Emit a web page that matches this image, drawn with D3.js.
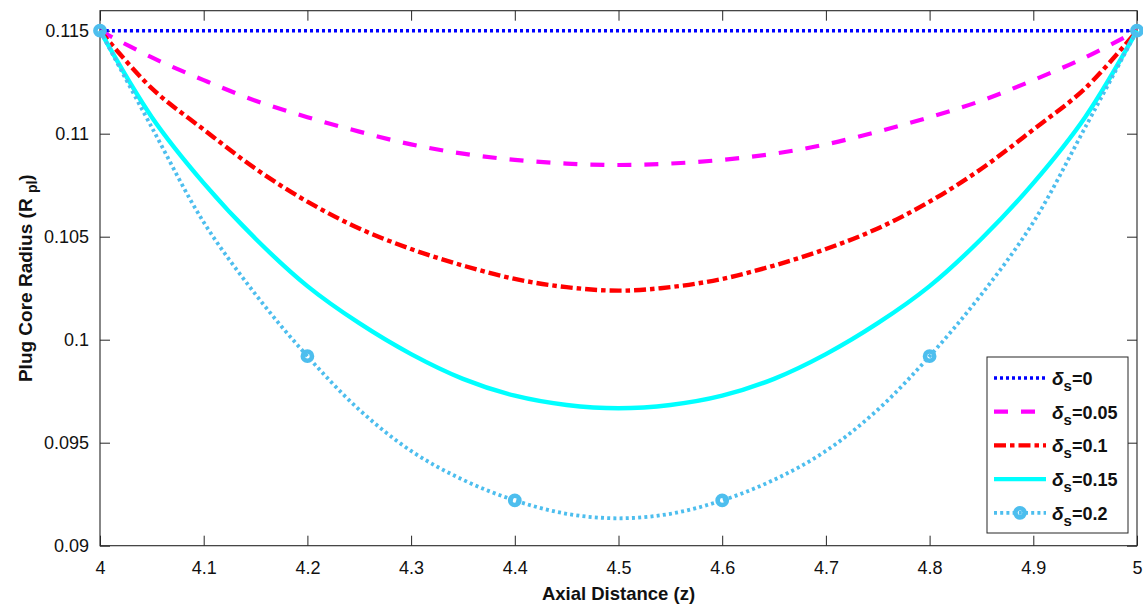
<!DOCTYPE html>
<html>
<head>
<meta charset="utf-8">
<script src="https://cdn.jsdelivr.net/npm/d3@7"></script>
<style>
  html, body { margin: 0; padding: 0; background: #fff; }
  svg { display: block; font-family: "Liberation Sans", Arial, Helvetica, sans-serif; }
</style>
</head>
<body>
<svg id="chart" width="1143" height="608"></svg>
<script>
// Axial positions (z) sampled every 0.05
const zValues = [4.00, 4.05, 4.10, 4.15, 4.20, 4.25, 4.30, 4.35, 4.40, 4.45, 4.50,
                 4.55, 4.60, 4.65, 4.70, 4.75, 4.80, 4.85, 4.90, 4.95, 5.00];

// Plug core radius for each slip parameter
const radiusDelta0   = [0.115, 0.115, 0.115, 0.115, 0.115, 0.115, 0.115, 0.115, 0.115, 0.115, 0.115,
                        0.115, 0.115, 0.115, 0.115, 0.115, 0.115, 0.115, 0.115, 0.115, 0.115];
const radiusDelta005 = [0.1150, 0.1137, 0.1126, 0.1116, 0.1108, 0.1101, 0.10948, 0.10903, 0.10873, 0.10855, 0.10848,
                        0.10855, 0.10873, 0.10903, 0.10948, 0.1101, 0.1108, 0.1116, 0.1126, 0.1137, 0.1150];
const radiusDelta01  = [0.1150, 0.1122, 0.1102, 0.1083, 0.1067, 0.1054, 0.1044, 0.1036, 0.10295, 0.10255, 0.10238,
                        0.10255, 0.10295, 0.1036, 0.1044, 0.1054, 0.1067, 0.1083, 0.1102, 0.1122, 0.1150];
const radiusDelta015 = [0.1150, 0.1108, 0.1076, 0.1049, 0.1026, 0.1008, 0.0993, 0.0981, 0.09728, 0.09683, 0.09667,
                        0.09683, 0.09728, 0.0981, 0.0993, 0.1008, 0.1026, 0.1049, 0.1076, 0.1108, 0.1150];
const radiusDelta02  = [0.1150, 0.1103, 0.1057, 0.1022, 0.0992, 0.0966, 0.0946, 0.0932, 0.0922, 0.09155, 0.09133,
                        0.09155, 0.0922, 0.0932, 0.0946, 0.0966, 0.0992, 0.1022, 0.1057, 0.1103, 0.1150];

// Marker positions on the delta_s = 0.2 curve
const markerZ = [4.0, 4.2, 4.4, 4.6, 4.8, 5.0];

const seriesLabels = ["0", "0.05", "0.1", "0.15", "0.2"];

const xTickValues = [4, 4.1, 4.2, 4.3, 4.4, 4.5, 4.6, 4.7, 4.8, 4.9, 5];
const xTickLabels = ["4", "4.1", "4.2", "4.3", "4.4", "4.5", "4.6", "4.7", "4.8", "4.9", "5"];
const yTickValues = [0.09, 0.095, 0.1, 0.105, 0.11, 0.115];
const yTickLabels = ["0.09", "0.095", "0.1", "0.105", "0.11", "0.115"];

// ---------- layout ----------
const svg = d3.select("#chart");
const plotLeft = 100, plotRight = 1137, plotTop = 10.7, plotBottom = 545.7;

const x = d3.scaleLinear().domain([4, 5]).range([plotLeft, plotRight]);
const y = d3.scaleLinear().domain([0.09, 0.11597]).range([plotBottom, plotTop]);

const axisColor = "#262626";

// ---------- series styling ----------
const seriesStyles = [
  { values: radiusDelta0,   color: "#0000ff", width: 3.4, dash: "3,3" },
  { values: radiusDelta005, color: "#ff00ff", width: 4.2, dash: "14,13" },
  { values: radiusDelta01,  color: "#ff0000", width: 4.4, dash: "12,4,4.5,4" },
  { values: radiusDelta015, color: "#00ffff", width: 4.4, dash: null },
  { values: radiusDelta02,  color: "#4dbeee", width: 3.8, dash: "3,3.2" }
];

// ---------- axes ----------
function styleAxis(g) {
  g.select(".domain").remove();
  g.selectAll(".tick line").attr("stroke", axisColor).attr("stroke-width", 1);
  g.selectAll(".tick text")
    .attr("fill", "#111")
    .style("font-size", "18px")
    .style("font-family", "'Liberation Sans', Arial, Helvetica, sans-serif");
}

svg.append("g")
  .attr("transform", `translate(0,${plotBottom})`)
  .call(d3.axisBottom(x).tickValues(xTickValues)
        .tickFormat((d, i) => xTickLabels[i])
        .tickSizeInner(-10).tickSizeOuter(0).tickPadding(16))
  .call(styleAxis);

svg.append("g")
  .attr("transform", `translate(0,${plotTop})`)
  .call(d3.axisTop(x).tickValues(xTickValues).tickFormat("")
        .tickSizeInner(-10).tickSizeOuter(0))
  .call(styleAxis);

svg.append("g")
  .attr("transform", `translate(${plotLeft},0)`)
  .call(d3.axisLeft(y).tickValues(yTickValues)
        .tickFormat((d, i) => yTickLabels[i])
        .tickSizeInner(-10).tickSizeOuter(0).tickPadding(11))
  .call(styleAxis);

svg.append("g")
  .attr("transform", `translate(${plotRight},0)`)
  .call(d3.axisRight(y).tickValues(yTickValues).tickFormat("")
        .tickSizeInner(-10).tickSizeOuter(0))
  .call(styleAxis);

// axes box
svg.append("rect")
  .attr("x", plotLeft).attr("y", plotTop)
  .attr("width", plotRight - plotLeft).attr("height", plotBottom - plotTop)
  .attr("fill", "none").attr("stroke", axisColor).attr("stroke-width", 1.1);

// ---------- curves ----------
const line = d3.line()
  .x((d, i) => x(zValues[i]))
  .y(d => y(d))
  .curve(d3.curveCatmullRom.alpha(0.5));

const curves = svg.append("g");
seriesStyles.forEach(s => {
  curves.append("path")
    .datum(s.values)
    .attr("d", line)
    .attr("fill", "none")
    .attr("stroke", s.color)
    .attr("stroke-width", s.width)
    .attr("stroke-dasharray", s.dash)
    .attr("stroke-linecap", "butt");
});

// circle markers on the delta_s = 0.2 curve
const markerData = markerZ.map(z => ({ z, r: radiusDelta02[zValues.findIndex(v => Math.abs(v - z) < 1e-9)] }));
svg.append("g")
  .selectAll("circle")
  .data(markerData)
  .join("circle")
  .attr("cx", d => x(d.z))
  .attr("cy", d => y(d.r))
  .attr("r", 4.6)
  .attr("fill", "none")
  .attr("stroke", "#4dbeee")
  .attr("stroke-width", 4.6);

// ---------- axis titles ----------
svg.append("text")
  .attr("x", (plotLeft + plotRight) / 2)
  .attr("y", 600)
  .attr("text-anchor", "middle")
  .attr("fill", "#111")
  .style("font-size", "18.5px")
  .style("font-weight", "bold")
  .text("Axial Distance (z)");

const yTitle = svg.append("text")
  .attr("transform", `translate(32,${(plotTop + plotBottom) / 2}) rotate(-90)`)
  .attr("text-anchor", "middle")
  .attr("fill", "#111")
  .style("font-size", "19px")
  .style("font-weight", "bold");
yTitle.append("tspan").text("Plug Core Radius (R ");
yTitle.append("tspan").attr("dy", 5).style("font-size", "14px").text("pl");
yTitle.append("tspan").attr("dy", -5).text(")");

// ---------- legend ----------
const legX = 987, legY = 357, legW = 141, legH = 176;
const legend = svg.append("g");
legend.append("rect")
  .attr("x", legX).attr("y", legY)
  .attr("width", legW).attr("height", legH)
  .attr("fill", "#fff")
  .attr("stroke", axisColor).attr("stroke-width", 1);

const rowY0 = 378, rowStep = 33.7;
seriesStyles.forEach((s, i) => {
  const cy = rowY0 + i * rowStep;
  legend.append("line")
    .attr("x1", 994).attr("x2", 1046)
    .attr("y1", cy).attr("y2", cy)
    .attr("stroke", s.color)
    .attr("stroke-width", s.width)
    .attr("stroke-dasharray", s.dash);
  if (i === 4) {
    legend.append("circle")
      .attr("cx", 1020).attr("cy", cy).attr("r", 4.6)
      .attr("fill", "none").attr("stroke", s.color).attr("stroke-width", 4.6);
  }
  const t = legend.append("text")
    .attr("x", 1052).attr("y", cy + 7)
    .attr("fill", "#111")
    .style("font-size", "18px")
    .style("font-weight", "bold");
  t.append("tspan").style("font-style", "italic").style("font-size", "19px").text("δ");
  t.append("tspan").attr("dy", 6).style("font-size", "15px").text("s");
  t.append("tspan").attr("dy", -6).text("=" + seriesLabels[i]);
});
</script>
</body>
</html>
